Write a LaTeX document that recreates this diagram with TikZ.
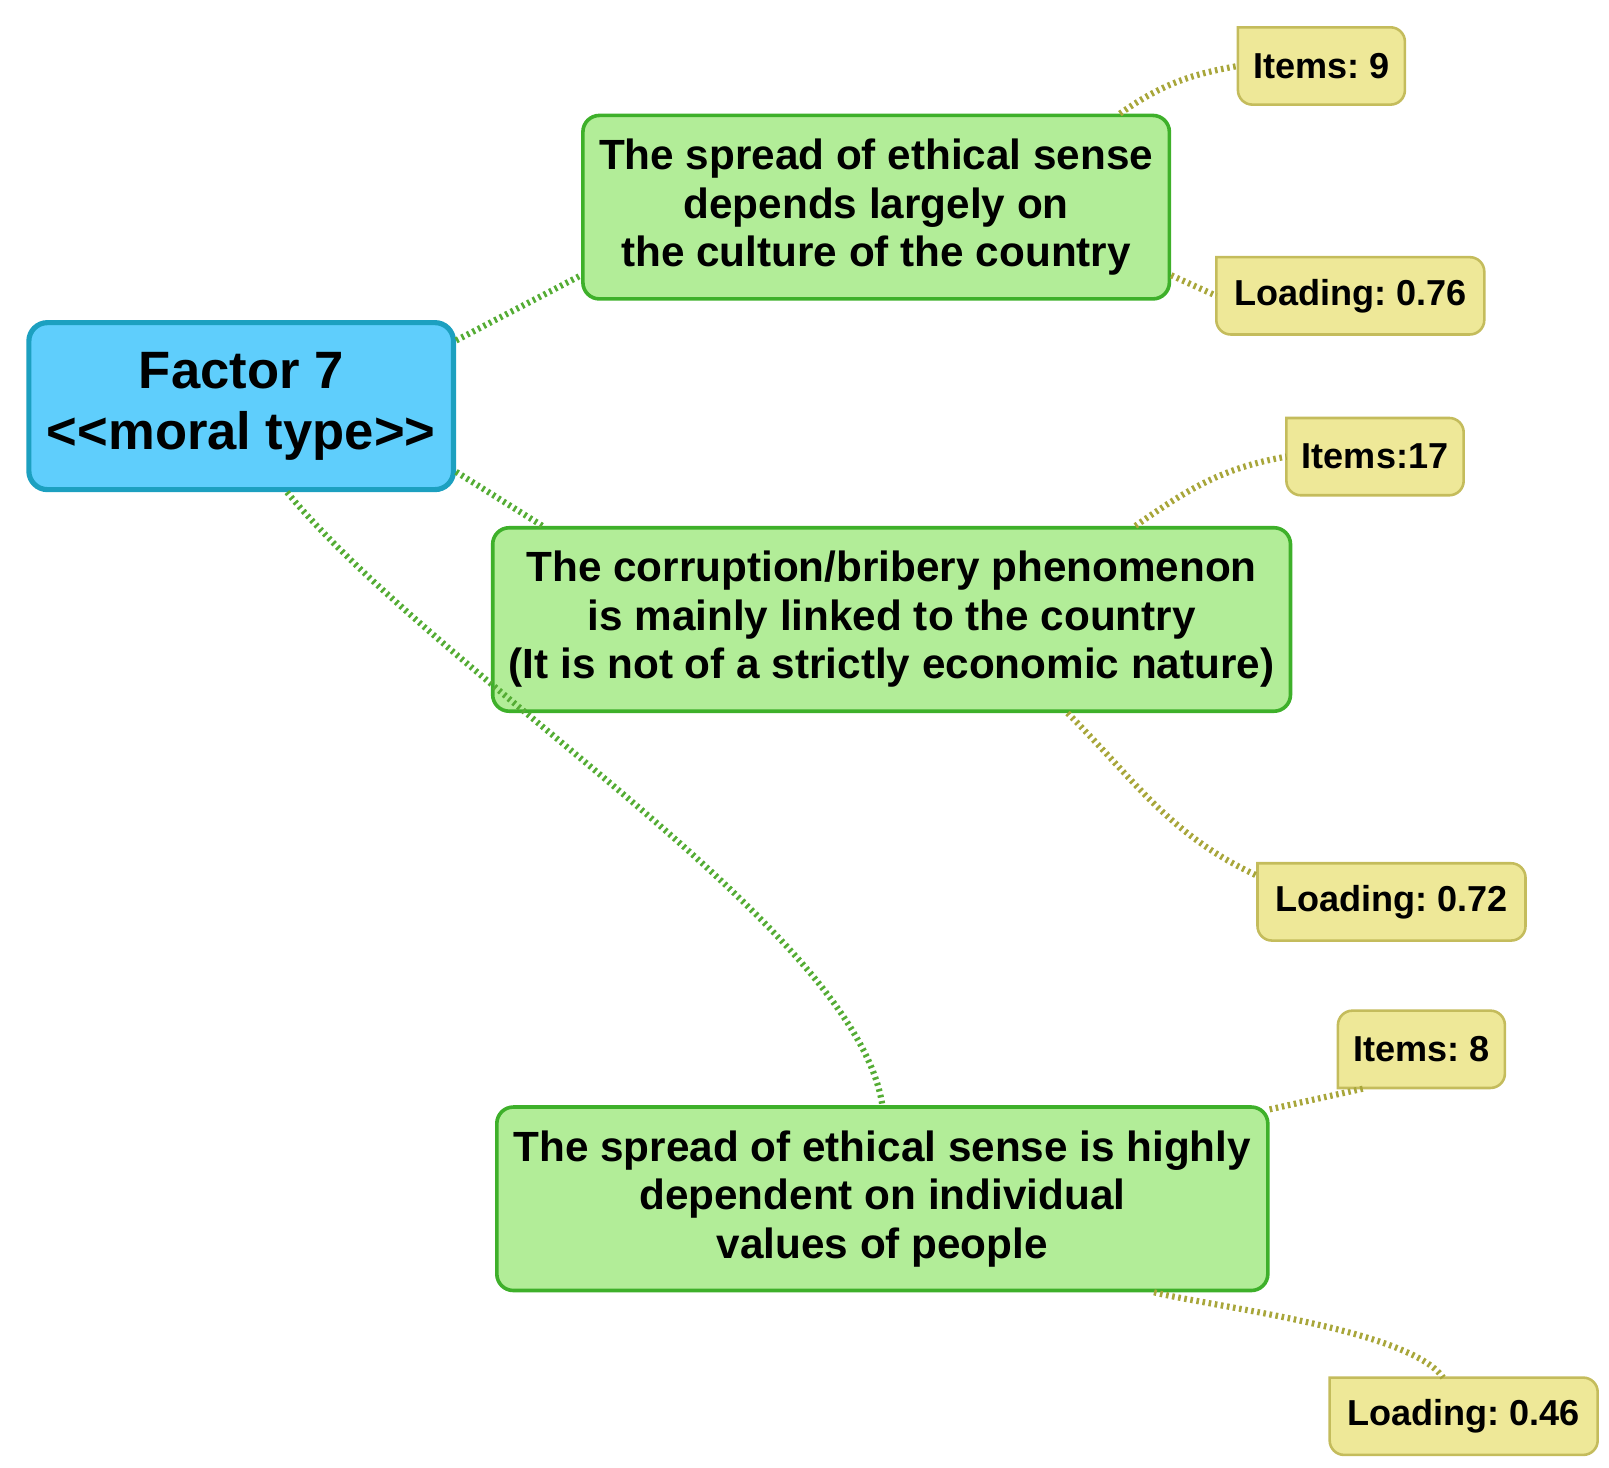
\documentclass[tikz,border=0pt]{standalone}
\usepackage{fontspec}
\setmainfont{Liberation Sans}
\frenchspacing
\definecolor{factorblue}{RGB}{95, 206, 252}
\definecolor{factoredge}{RGB}{28, 160, 192}
\definecolor{stmtgreen}{RGB}{178, 237, 152}
\definecolor{stmtedge}{RGB}{62, 176, 42}
\definecolor{tagyellow}{RGB}{238, 232, 152}
\definecolor{tagedge}{RGB}{196, 188, 92}
\definecolor{linkgreen}{RGB}{84, 172, 52}
\definecolor{linkolive}{RGB}{168, 166, 58}
\usetikzlibrary{backgrounds}

\tikzset{
  factorbox/.style={draw=factoredge, fill=factorblue, line width=5pt, rounded corners=18pt, align=center,
    inner sep=0pt, minimum width=412pt, minimum height=162pt, font=\fontsize{51}{59}\selectfont\bfseries},
  stmtbox/.style={draw=stmtedge, fill=stmtgreen, line width=3.5pt, rounded corners=16pt, align=center,
    inner sep=0pt, minimum height=178pt, font=\fontsize{41}{47}\selectfont\bfseries},
  tagbox/.style={align=center, inner sep=0pt, outer sep=0pt, minimum height=75pt,
    font=\fontsize{35}{40}\selectfont\bfseries},
  tagframe/.style={draw=tagedge, fill=tagyellow, line width=2.5pt},
  mainlink/.style={draw=linkgreen, line width=6pt, dash pattern=on 2.5pt off 3.5pt},
  taglink/.style={draw=linkolive, line width=6pt, dash pattern=on 2.5pt off 3.5pt}
}

\begin{document}
\begin{tikzpicture}[x=1pt, y=-1pt]
  \useasboundingbox (0, 0) rectangle (1561, 1424);

  \coordinate (c1) at (430, 660);
  \coordinate (c2) at (830, 900);

  \node[factorbox] (factor) at (234, 394) {Factor 7\\<{}<moral type>{}>};

  \node[stmtbox, minimum width=569pt] (culture) at (850, 201) {
    The spread of ethical sense\\
    depends largely on\\
    the culture of the country
  };
  \node[stmtbox, minimum width=774pt] (bribery) at (865, 601) {
    The corruption/bribery phenomenon\\
    is mainly linked to the country\\
    (It is not of a strictly economic nature)
  };
  \node[stmtbox, minimum width=748pt] (values) at (856, 1163) {
    The spread of ethical sense is highly\\
    dependent on individual\\
    values of people
  };

  \node[tagbox, minimum width=162pt] (items9) at (1282, 64) {Items: 9};
  \node[tagbox, minimum width=260pt] (load76) at (1310, 287) {Loading: 0.76};
  \node[tagbox, minimum width=172pt] (items17) at (1334, 443) {Items:17};
  \node[tagbox, minimum width=260pt] (load72) at (1350, 875) {Loading: 0.72};
  \node[tagbox, minimum width=162pt] (items8) at (1379, 1018) {Items: 8};
  \node[tagbox, minimum width=260pt] (load46) at (1420, 1374) {Loading: 0.46};

  % tag frames: square corner where the link comes in
  \begin{scope}[on background layer]
    \foreach \t in {items9, load76, items17, load72, load46}
      \path[tagframe] (\t.north) [rounded corners=14pt] -- (\t.north east) -- (\t.south east)
        -- (\t.south west) -- (\t.west) [sharp corners] -- (\t.north west) -- cycle;
    \path[tagframe] (items8.north) [rounded corners=14pt] -- (items8.north east) -- (items8.south east)
      -- (items8.south) [sharp corners] -- (items8.south west) -- (items8.west)
      [rounded corners=14pt] -- (items8.north west) -- cycle;
  \end{scope}

  % factor to statements
  \draw[mainlink] (factor.17) -- (culture.193);
  \draw[mainlink] (factor.-17) -- (bribery.165);
  \draw[mainlink] (factor.-62) .. controls (c1) and (c2) .. (values.north);

  % statements to items and loadings
  \draw[taglink] (culture.21) to[out=35, in=190] (items9.west);
  \draw[taglink] (culture.-13) -- (load76.west);
  \draw[taglink] (bribery.21) to[out=35, in=190] (items17.west);
  \draw[taglink] (bribery.-28) to[out=-45, in=155] (load72.169);
  \draw[taglink] (values.13) -- (items8.215);
  \draw[taglink] (values.-19) to[out=-14, in=125, looseness=0.5] (load46.118);
\end{tikzpicture}
\end{document}
